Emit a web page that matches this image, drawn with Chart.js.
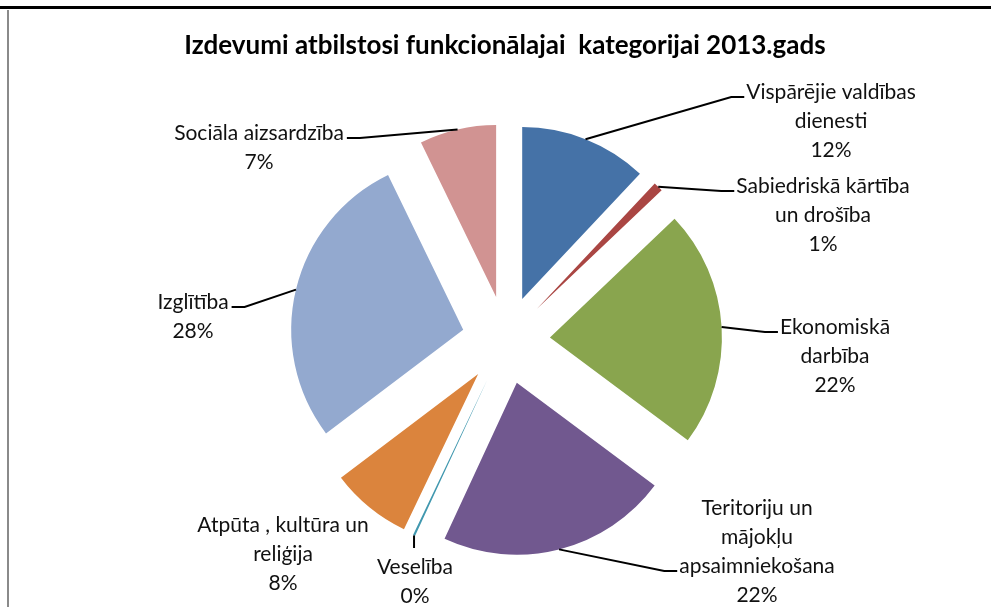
<!DOCTYPE html>
<html>
<head>
<meta charset="utf-8">
<title>Izdevumi 2013</title>
<script src="https://cdn.jsdelivr.net/npm/chart.js@4.4.1/dist/chart.umd.min.js"></script>
<style>
  html, body { margin: 0; padding: 0; background: #fff; }
  #wrap { position: relative; width: 991px; height: 607px; }
</style>
</head>
<body>
<div id="wrap"><canvas id="pieChart"></canvas></div>
<script>
const titleText = 'Izdevumi atbilstosi funkcionālajai  kategorijai 2013.gads';

// kategorijas (jau sadalītas rindās kā Excel etiķetēs)
const categories = [
  ['Vispārējie valdības', 'dienesti'],
  ['Sabiedriskā kārtība', 'un drošība'],
  ['Ekonomiskā', 'darbība'],
  ['Teritoriju un', 'mājokļu', 'apsaimniekošana'],
  ['Veselība'],
  ['Atpūta , kultūra un', 'reliģija'],
  ['Izglītība'],
  ['Sociāla aizsardzība']
];
const shares = [12.0, 0.9, 22.3, 21.7, 0.2, 7.6, 28.1, 7.2];
const colors = ['#4572A7', '#AA4643', '#89A54E', '#71588F', '#4198AF', '#DB843D', '#93A9CF', '#D19392'];

// etiķešu novietojums (rokām pārvietotas)
const labelPos = [
  { x: 831, y: 92, side: 'left', line: 0 },
  { x: 823, y: 186, side: 'left', line: 0 },
  { x: 835, y: 327, side: 'left', line: 0 },
  { x: 757, y: 508, side: 'left', line: 2 },
  { x: 415, y: 567, side: 'top' },
  { x: 283, y: 525, side: 'none' },
  { x: 193, y: 302, side: 'right', line: 0 },
  { x: 259, y: 133, side: 'right', line: 0 }
];

const EXPLODE = 44;
const LINE_H = 29;
const LABEL_FONT = '21px Lato';
const total = shares.reduce((a, b) => a + b, 0);

// izvirzītie sektori: katru loku zīmē nobīdītu pa bisektrisi
const explodePlugin = {
  id: 'explode',
  beforeDatasetDraw(chart, args) {
    const ctx = chart.ctx;
    args.meta.data.forEach(arc => {
      const mid = (arc.startAngle + arc.endAngle) / 2;
      ctx.save();
      ctx.translate(Math.cos(mid) * EXPLODE, Math.sin(mid) * EXPLODE);
      arc.draw(ctx);
      ctx.restore();
    });
    return false;
  }
};

const labelPlugin = {
  id: 'labels',
  afterDraw(chart) {
    const ctx = chart.ctx;
    ctx.save();

    // rāmis
    ctx.fillStyle = '#000';
    ctx.fillRect(0, 6, chart.width, 3);
    ctx.fillStyle = '#8a8a8a';
    ctx.fillRect(7, 10, 2, chart.height - 10);

    // virsraksts
    ctx.fillStyle = '#000';
    ctx.font = 'bold 26px Lato';
    ctx.textAlign = 'center';
    ctx.textBaseline = 'middle';
    ctx.fillText(titleText, 505, 46);

    const meta = chart.getDatasetMeta(0);
    ctx.font = LABEL_FONT;
    meta.data.forEach((arc, i) => {
      const pos = labelPos[i];
      const lines = categories[i].concat(Math.round(shares[i] / total * 100) + '%');
      ctx.fillStyle = '#111';
      lines.forEach((t, k) => ctx.fillText(t, pos.x, pos.y + k * LINE_H));

      if (pos.side === 'none') return;
      const mid = (arc.startAngle + arc.endAngle) / 2;
      const r = arc.outerRadius + EXPLODE;
      const x0 = arc.x + Math.cos(mid) * r;
      const y0 = arc.y + Math.sin(mid) * r;
      let x1, y1, x2, y2;
      if (pos.side === 'top') {
        x2 = x1 = x0;
        y2 = y1 = pos.y - 19;
      } else {
        const ly = pos.y + pos.line * LINE_H;
        const w = ctx.measureText(lines[pos.line]).width;
        y1 = y2 = ly + 5;
        if (pos.side === 'left') {
          x2 = pos.x - w / 2 - 2;
          x1 = x2 - 13;
        } else {
          x2 = pos.x + w / 2 + 3;
          x1 = x2 + 13;
        }
      }
      ctx.strokeStyle = '#000';
      ctx.lineWidth = 2;
      ctx.beginPath();
      ctx.moveTo(x0, y0);
      ctx.lineTo(x1, y1);
      ctx.lineTo(x2, y2);
      ctx.stroke();
    });
    ctx.restore();
  }
};

new Chart(document.getElementById('pieChart'), {
  type: 'pie',
  data: {
    labels: categories,
    datasets: [{
      data: shares,
      backgroundColor: colors,
      borderWidth: 0,
      radius: 172
    }]
  },
  options: {
    responsive: true,
    maintainAspectRatio: false,
    animation: false,
    layout: { padding: { left: 21, top: 73, right: 0, bottom: 0 } },
    plugins: {
      legend: { display: false },
      tooltip: { enabled: false }
    }
  },
  plugins: [explodePlugin, labelPlugin]
});
</script>
</body>
</html>
